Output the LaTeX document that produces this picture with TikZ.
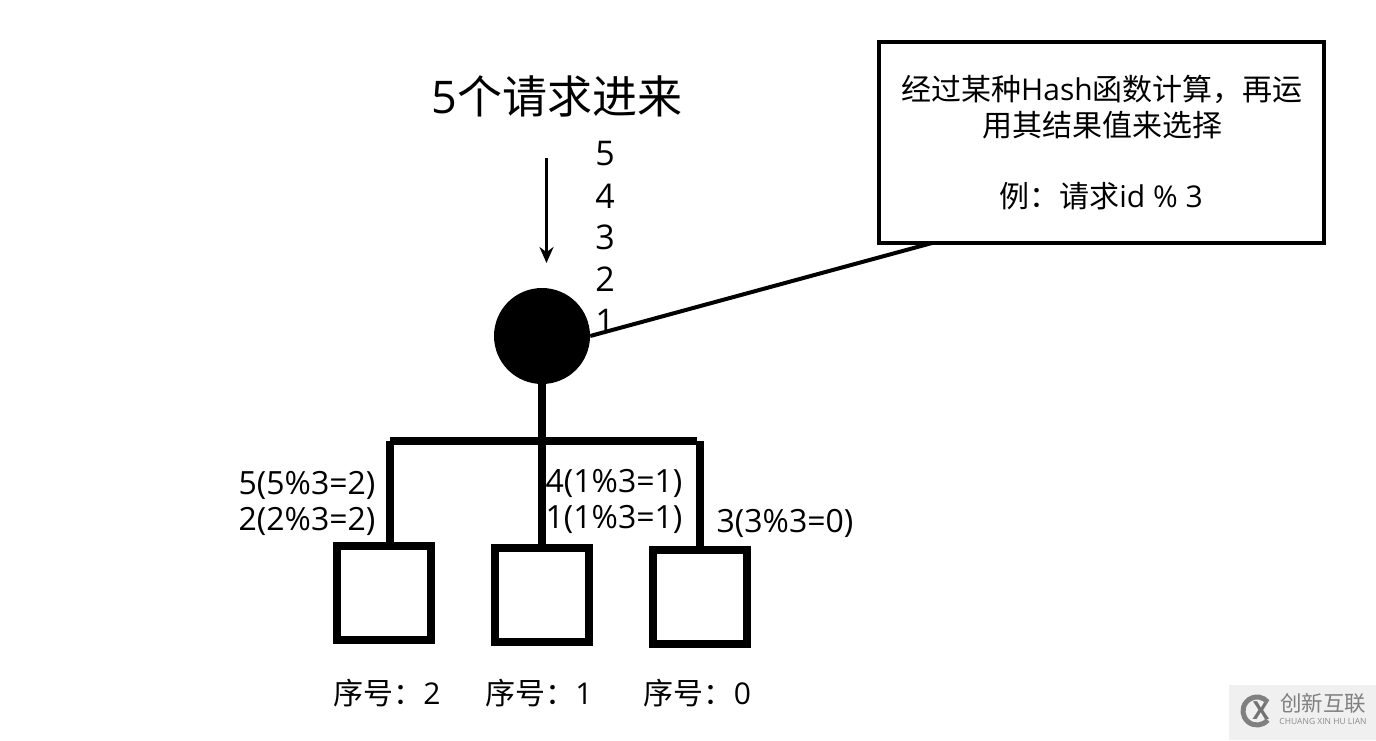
\documentclass[tikz,border=0pt]{standalone}
\usepackage{fontspec}
\usetikzlibrary{arrows.meta}
\setmainfont{Open Sans}
\newfontfamily\cjk{Noto Sans CJK SC}
\tikzstyle{server}=[draw,line width=8pt,minimum size=94pt,inner sep=0pt]
\tikzstyle{count}=[inner sep=0pt,font=\fontsize{34}{34}\selectfont]
\tikzstyle{label}=[inner sep=0pt,font=\fontsize{30}{30}\selectfont]
\tikzstyle{calc}=[inner sep=0pt,font=\fontsize{32}{32}\selectfont]
\tikzstyle{thick edge} = [draw,line width=8pt,-]

\begin{document}
\begin{tikzpicture}[x=1pt,y=-1pt]
			\useasboundingbox (0,0) rectangle (1376,740);
			\node[inner sep=0pt,font=\fontsize{45}{45}\selectfont] (title) at (557,96.5) {5{\cjk 个请求进来}};
			\node[count] (n5) at (605,154) {5};
			\node[count] (n4) at (605,196) {4};
			\node[count] (n3) at (605,237) {3};
			\node[count] (n2) at (605,279) {2};
			\node[count] (n1) at (605,321) {1};
			\coordinate (in) at (546.5,158);
			\coordinate (out) at (546.5,263);
			\node[circle,fill=black,minimum size=96pt,inner sep=0pt] (hub) at (542,336) {};
			\node[draw,line width=4pt,minimum width=445pt,minimum height=201pt,inner sep=0pt] (note) at (1101.5,142) {};
			\node[label] (t1) at (1102,89) {{\cjk 经过某种}Hash{\cjk 函数计算，再运}};
			\node[label] (t2) at (1102,125) {\cjk 用其结果值来选择};
			\node[label] (t3) at (1101,196.5) {{\cjk 例：请求}id \% 3};
			\node[server] (s2) at (384,593) {};
			\node[server] (s1) at (542,595) {};
			\node[server] (s0) at (700,597) {};
			\coordinate (busl) at (390,441);
			\coordinate (busm) at (542,441);
			\coordinate (busr) at (697,441);
			\coordinate (drop2) at (390,441);
			\coordinate (drop0) at (700,441);
			\coordinate (tap) at (932,243);
			\node[calc] (a5) at (307,485) {5(5\%3=2)};
			\node[calc] (a2) at (307,521) {2(2\%3=2)};
			\node[calc] (a4) at (614,483) {4(1\%3=1)};
			\node[calc] (a1) at (614,519) {1(1\%3=1)};
			\node[calc] (a3) at (785,523) {3(3\%3=0)};
			\node[label] (i2) at (387,693) {{\cjk 序号：}2};
			\node[label] (i1) at (539,693) {{\cjk 序号：}1};
			\node[label] (i0) at (697.5,693) {{\cjk 序号：}0};
			% Input arrow and note line
			\draw[line width=3.5pt,-{Stealth[length=16pt,width=14pt]}] (in) -- (out);
			\draw[line width=4pt] (hub.east) -- (tap);
			% Connect the hub with the servers
			\path[thick edge] (hub) -- (busm);
			\path[thick edge] (busl) -- (busr);
			\foreach \source/ \dest in {drop2/s2, busm/s1, drop0/s0}
			 \path[thick edge] (\source) -- (\source |- \dest.north);
			% Watermark
			\node[fill=black!6,minimum width=147pt,minimum height=55pt,inner sep=0pt] (mark) at (1302.5,712.5) {};
			\node[inner sep=0pt,text=black!50,font=\cjk\fontsize{21.5}{21.5}\selectfont] (marktext) at (1323,703) {创新互联};
			\node[inner sep=0pt,text=black!45,font=\fontsize{8.5}{9}\selectfont] (marksub) at (1323,721) {CHUANG XIN HU LIAN};
			\coordinate (markring) at (1257,711);
			\node[inner sep=0pt,text=black!55,font=\bfseries\fontsize{25}{25}\selectfont] (marklogo) at (1261,711) {X};
			\draw[black!50,line width=5pt] (markring) ++(40:14) arc[start angle=40,end angle=320,radius=14];
\end{tikzpicture}
\end{document}
